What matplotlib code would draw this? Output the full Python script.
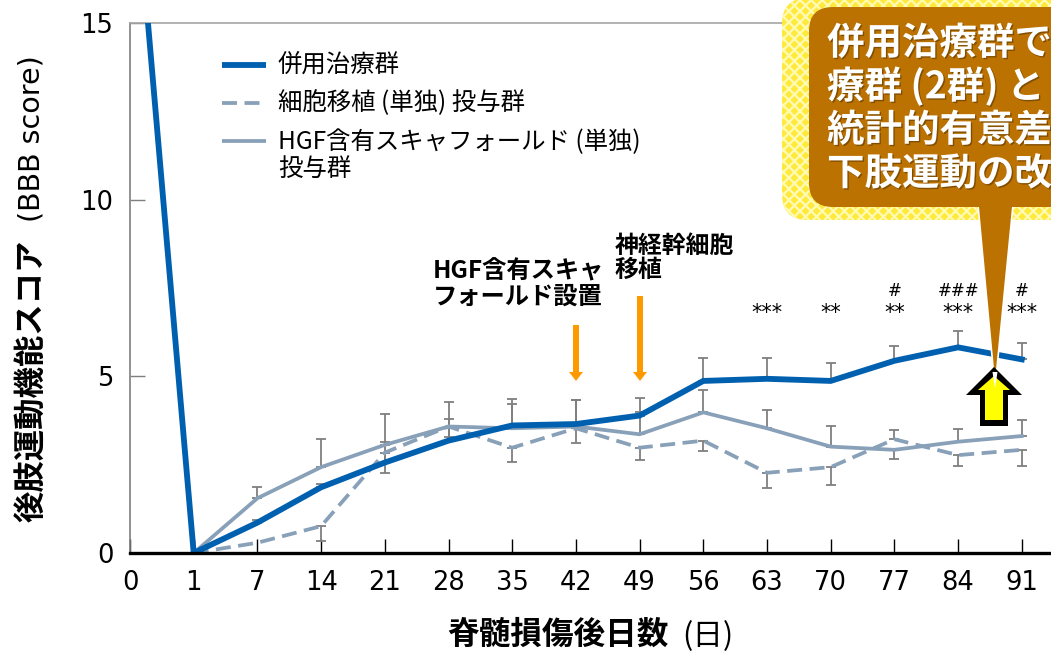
import matplotlib
matplotlib.use("Agg")
import matplotlib.pyplot as plt
import matplotlib.patheffects as pe
from matplotlib.patches import FancyBboxPatch, Polygon

JP = ["Noto Sans CJK JP", "DejaVu Sans"]

days = ["0", "1", "7", "14", "21", "28", "35", "42", "49", "56", "63", "70", "77", "84", "91"]

combo = [20.9, 0, 0.86, 1.86, 2.56, 3.18, 3.61, 3.65, 3.89, 4.87, 4.93, 4.87, 5.44, 5.82, 5.48]
cell = [None, 0, 0.29, 0.76, 2.84, 3.58, 2.98, 3.53, 2.98, 3.18, 2.27, 2.43, 3.22, 2.77, 2.92]
hgf = [None, 0, 1.55, 2.43, 3.06, 3.58, 3.53, 3.58, 3.36, 3.98, 3.53, 3.01, 2.92, 3.15, 3.31]

# error bar ends, None where there is no bar
combo_top = [None, None, 0.93, 1.95, 3.13, 3.80, 4.22, 4.32, 4.38, 5.52, 5.52, 5.39, 5.87, 6.29, 5.95]
cell_low = [None, None, None, 0.35, 2.27, 3.27, 2.58, 3.12, 2.63, 2.89, 1.83, 1.93, None, 2.45, 2.47]
cell_top = [None, None, None, None, None, None, None, None, None, None, None, None, 3.48, None, None]
hgf_top = [None, None, 1.86, 3.23, 3.93, 4.26, 4.35, 4.32, 3.98, 4.60, 4.05, 3.60, None, 3.50, 3.76]
hgf_low = [None, None, None, None, None, None, None, None, None, None, None, None, 2.67, None, None]

stars = {10: "***", 11: "**", 12: "**", 13: "***", 14: "***"}
hashes = {12: "#", 13: "###", 14: "#"}

legend_labels = ["併用治療群", "細胞移植 (単独) 投与群", "HGF含有スキャフォールド (単独)\n投与群"]
callout_lines = ["併用治療群で", "療群 (2群) と", "統計的有意差", "下肢運動の改"]

BLUE = "#0060B0"
GREY_BLUE = "#88A0B8"
BAR = "#7F7F7F"
BROWN = "#BC7200"
ORANGE = "#FF9900"


def draw_bars(ax, values, ends):
    for i, (v, e) in enumerate(zip(values, ends)):
        if e is None:
            continue
        ax.errorbar(i, v, yerr=[[max(v - e, 0)], [max(e - v, 0)]], color=BAR,
                    lw=1.3, capsize=3.8, capthick=1.3, zorder=2)


def graph():
    plt.rcParams["hatch.linewidth"] = 1.6
    fig = plt.figure(figsize=(10.51, 6.57), dpi=100)
    ax = fig.add_axes([130 / 1051, 1 - 553 / 657, 921 / 1051, 530 / 657])
    ax.set_xlim(0, 921 / 63.7)
    ax.set_ylim(0, 15)

    draw_bars(ax, combo, combo_top)
    draw_bars(ax, cell, cell_low)
    draw_bars(ax, cell, cell_top)
    draw_bars(ax, hgf, hgf_top)
    draw_bars(ax, hgf, hgf_low)

    x = list(range(len(days)))
    ax.plot(x[1:], cell[1:], color=GREY_BLUE, lw=2.7, ls=(0, (4, 2)), zorder=3)
    ax.plot(x[1:], hgf[1:], color=GREY_BLUE, lw=2.7, zorder=3)
    ax.plot(x, combo, color=BLUE, lw=4.2, zorder=4, solid_joinstyle="miter")

    ax.set_xticks(x)
    ax.set_xticklabels(days)
    ax.set_yticks([0, 5, 10, 15])
    ax.tick_params(axis="x", direction="in", length=10, width=1, color="black",
                   labelsize=18.5, pad=12)
    ax.tick_params(axis="y", direction="in", length=11, width=1, color=BAR,
                   labelsize=18.5, pad=12)
    for side in ["left", "top"]:
        ax.spines[side].set_color("#A6A6A6" if side == "top" else BAR)
        ax.spines[side].set_linewidth(1.2)
    ax.spines["right"].set_visible(False)
    ax.spines["bottom"].set_linewidth(2.4)
    ax.spines["bottom"].set_zorder(6)

    for i, s in stars.items():
        ax.text(i, 6.8, s, ha="center", va="center", fontsize=15)
    for i, s in hashes.items():
        ax.text(i, 7.42, s, ha="center", va="center", fontsize=12)

    # everything else is placed in picture pixels on an overlay
    ov = fig.add_axes([0, 0, 1, 1])
    ov.set_xlim(0, 1051)
    ov.set_ylim(657, 0)
    ov.axis("off")

    ov.plot([222, 266], [65, 65], color=BLUE, lw=4.2, solid_capstyle="butt")
    ov.plot([222, 266], [103, 103], color=GREY_BLUE, lw=2.7, ls=(0, (4, 2)))
    ov.plot([222, 266], [141, 141], color=GREY_BLUE, lw=2.7, solid_capstyle="butt")
    ov.text(278, 65, legend_labels[0], family=JP, fontsize=17.6, va="center")
    ov.text(278, 103, legend_labels[1], family=JP, fontsize=17.6, va="center")
    ov.text(278, 155.5, legend_labels[2], family=JP, fontsize=17.6, va="center", linespacing=1.05)

    ov.text(433, 284, "HGF含有スキャ\nフォールド設置", family=JP, fontsize=17.5, weight="bold",
            va="center", linespacing=1.1)
    ov.text(615, 258, "神経幹細胞\n移植", family=JP, fontsize=17.2, weight="bold",
            va="center", linespacing=1.0)

    for px, top in [(576, 325), (640, 296)]:
        ov.add_patch(Polygon([(px - 3, top), (px + 3, top), (px + 3, 372), (px + 7, 372),
                              (px, 381), (px - 7, 372), (px - 3, 372)], color=ORANGE, lw=0))

    ov.text(32, 522, "後肢運動機能スコア", family=JP, fontsize=22.6, weight="bold", rotation=90,
            ha="center", va="bottom")
    ov.text(32, 231, " (BBB score)", family="DejaVu Sans", fontsize=20.5, rotation=90,
            ha="center", va="bottom")
    ov.text(447, 635, "脊髄損傷後日数", family=JP, fontsize=22.8, weight="bold", va="center")
    ov.text(682, 637, "(日)", family=JP, fontsize=22, va="center")

    # callout
    ov.add_patch(FancyBboxPatch((782, -2), 340, 222, boxstyle="round,pad=0,rounding_size=26",
                                fc="#FFEA3C", ec="none", zorder=7))
    ov.add_patch(FancyBboxPatch((782, -2), 340, 222, boxstyle="round,pad=0,rounding_size=26",
                                fc="none", ec="#FFFAB4", hatch="xxx", lw=0, zorder=7))
    ov.add_patch(Polygon([(978, 205), (1013, 205), (995, 388)], fc=BROWN, ec="white", lw=1.2, zorder=8))
    ov.add_patch(Polygon([(992.5, 372), (997.5, 372), (995, 388)], fc="white", ec="none", zorder=10))
    ov.add_patch(FancyBboxPatch((809, 7), 330, 200, boxstyle="round,pad=0,rounding_size=24",
                                fc=BROWN, ec="none", zorder=8))
    for i, line in enumerate(callout_lines):
        ov.text(827, 43 + 43.5 * i, line, family=JP, fontsize=27, weight="bold", color="white",
                va="center", zorder=9,
                path_effects=[pe.withSimplePatchShadow(offset=(1, -1), shadow_rgbFace="#5A3600", alpha=0.6)])

    # up arrow under the callout tail
    ov.add_patch(Polygon([(994, 367), (1022, 395), (1008, 395), (1008, 426), (980, 426), (980, 395), (966, 395)],
                         fc="black", ec="none", zorder=8))
    ov.add_patch(Polygon([(994, 376), (1010, 390), (1003, 390), (1003, 420), (985, 420), (985, 390), (978, 390)],
                         fc="#FFFF00", ec="none", zorder=8))

    fig.savefig("out.png", dpi=100)


if __name__ == "__main__":
    graph()
